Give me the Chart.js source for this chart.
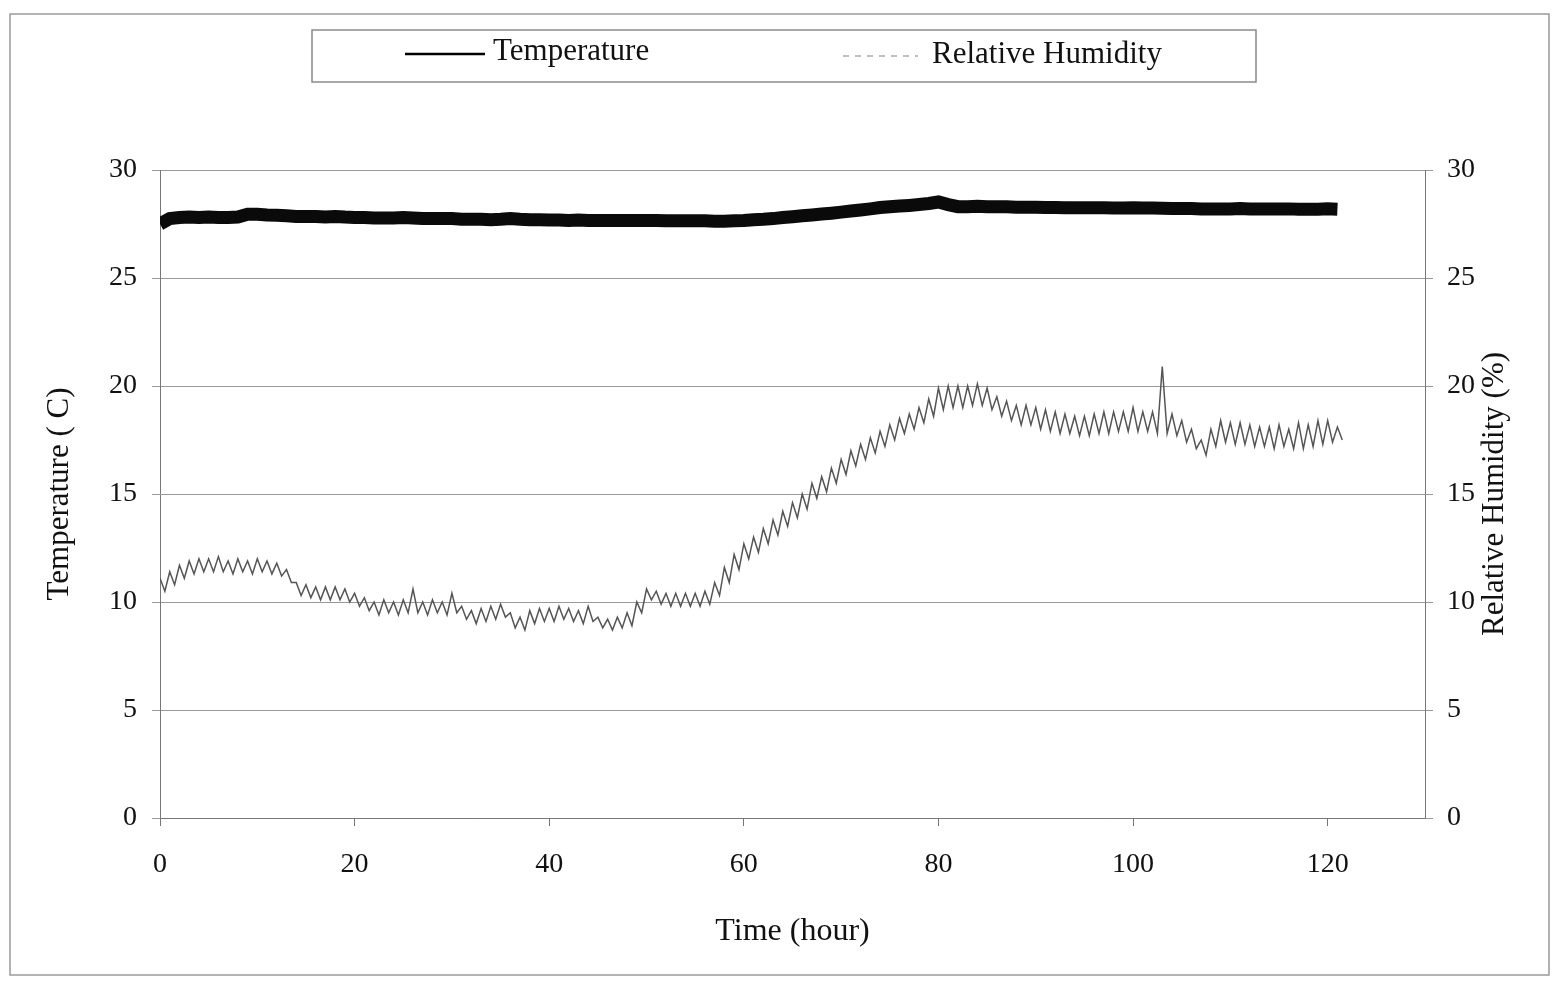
<!DOCTYPE html>
<html>
<head>
<meta charset="utf-8">
<title>Temperature and Relative Humidity</title>
<script src="https://cdn.jsdelivr.net/npm/chart.js@4.4.1/dist/chart.umd.min.js"></script>
<style>
  html, body { margin: 0; padding: 0; background: #ffffff; }
  #wrap { width: 1553px; height: 985px; position: relative; }
</style>
</head>
<body>
<div id="wrap"><canvas id="grafica"></canvas></div>
<script>
// series
const seriesNames = ['Temperature', 'Relative Humidity'];

// temperature (C), one reading per hour from hour 0
const tempStepHours = 1;
const temperature = [
  27.5, 27.75, 27.8, 27.82, 27.8, 27.82, 27.8, 27.8, 27.82, 27.95,
  27.95, 27.92, 27.9, 27.88, 27.85, 27.85, 27.85, 27.82, 27.85, 27.82,
  27.8, 27.8, 27.78, 27.78, 27.78, 27.8, 27.78, 27.75, 27.75, 27.75,
  27.75, 27.72, 27.72, 27.72, 27.7, 27.72, 27.75, 27.72, 27.7, 27.7,
  27.68, 27.68, 27.66, 27.68, 27.66, 27.66, 27.66, 27.66, 27.66, 27.66,
  27.66, 27.66, 27.65, 27.65, 27.65, 27.65, 27.65, 27.63, 27.63, 27.65,
  27.66, 27.7, 27.72, 27.75, 27.8, 27.84, 27.88, 27.92, 27.96, 28.0,
  28.05, 28.1, 28.15, 28.2, 28.26, 28.3, 28.33, 28.36, 28.4, 28.45,
  28.52, 28.4, 28.3, 28.3, 28.32, 28.3, 28.3, 28.3, 28.28, 28.28,
  28.28, 28.26, 28.26, 28.25, 28.25, 28.25, 28.25, 28.25, 28.24, 28.24,
  28.25, 28.24, 28.24, 28.23, 28.22, 28.22, 28.22, 28.2, 28.2, 28.2,
  28.2, 28.22, 28.2, 28.2, 28.2, 28.2, 28.2, 28.18, 28.18, 28.18,
  28.2, 28.18
];

// relative humidity (%), one reading per half hour from hour 0
const rhStepHours = 0.5;
const humidity = [
  11.1, 10.5, 11.4, 10.8, 11.7, 11.1, 11.9, 11.3, 12.0, 11.4,   // 0-4.5
  12.0, 11.4, 12.1, 11.4, 11.9, 11.3, 12.0, 11.4, 11.9, 11.3,   // 5-9.5
  12.0, 11.4, 11.9, 11.3, 11.8, 11.2, 11.5, 10.9, 10.9, 10.3,   // 10-14.5
  10.8, 10.2, 10.7, 10.1, 10.7, 10.1, 10.7, 10.1, 10.6, 10.0,   // 15-19.5
  10.4, 9.8, 10.2, 9.6, 10.0, 9.4, 10.1, 9.5, 10.0, 9.4,        // 20-24.5
  10.1, 9.5, 10.6, 9.5, 10.0, 9.4, 10.1, 9.5, 10.0, 9.4,        // 25-29.5
  10.4, 9.5, 9.8, 9.2, 9.6, 9.0, 9.7, 9.1, 9.8, 9.2,            // 30-34.5
  9.9, 9.3, 9.5, 8.8, 9.3, 8.7, 9.6, 9.0, 9.7, 9.1,             // 35-39.5
  9.7, 9.1, 9.8, 9.2, 9.7, 9.1, 9.6, 9.0, 9.8, 9.1,             // 40-44.5
  9.3, 8.8, 9.2, 8.7, 9.3, 8.8, 9.5, 8.9, 10.0, 9.5,            // 45-49.5
  10.6, 10.1, 10.5, 9.9, 10.4, 9.8, 10.4, 9.8, 10.4, 9.8,       // 50-54.5
  10.4, 9.8, 10.5, 9.9, 10.9, 10.3, 11.6, 10.9, 12.2, 11.5,     // 55-59.5
  12.7, 12.0, 13.0, 12.3, 13.4, 12.7, 13.8, 13.1, 14.2, 13.5,   // 60-64.5
  14.6, 13.9, 15.0, 14.3, 15.5, 14.8, 15.8, 15.1, 16.2, 15.5,   // 65-69.5
  16.6, 15.9, 17.0, 16.3, 17.3, 16.6, 17.6, 16.9, 17.9, 17.2,   // 70-74.5
  18.2, 17.5, 18.5, 17.8, 18.7, 18.0, 19.0, 18.3, 19.4, 18.6,   // 75-79.5
  19.9, 18.9, 20.0, 19.0, 20.0, 19.0, 20.0, 19.1, 20.1, 19.1,   // 80-84.5
  19.9, 18.9, 19.5, 18.6, 19.3, 18.4, 19.1, 18.2, 19.1, 18.2,   // 85-89.5
  19.0, 18.0, 18.9, 17.9, 18.8, 17.8, 18.7, 17.8, 18.6, 17.7,   // 90-94.5
  18.6, 17.7, 18.7, 17.8, 18.8, 17.8, 18.8, 17.9, 18.8, 17.9,   // 95-99.5
  19.0, 17.9, 18.8, 17.9, 18.8, 17.8, 20.9, 17.8, 18.7, 17.7,   // 100-104.5
  18.4, 17.4, 18.0, 17.1, 17.5, 16.8, 18.0, 17.2, 18.4, 17.4,   // 105-109.5
  18.3, 17.3, 18.3, 17.3, 18.2, 17.2, 18.1, 17.2, 18.1, 17.1,   // 110-114.5
  18.2, 17.2, 18.0, 17.1, 18.3, 17.1, 18.2, 17.2, 18.4, 17.3,   // 115-119.5
  18.4, 17.4, 18.1, 17.5                                        // 120-121.5
];

// axis settings
const xMin = 0, xMax = 130, xStep = 20;
const yMin = 0, yMax = 30, yStep = 5;

const serif = 'Liberation Serif';

const tempPoints = temperature.map((v, i) => ({ x: i * tempStepHours, y: v }));
const rhPoints = humidity.map((v, i) => ({ x: i * rhStepHours, y: v }));

// frame, legend box and right title (reads bottom to top, like the left one)
const extras = {
  id: 'extras',
  afterDraw(chart) {
    const ctx = chart.ctx;
    const area = chart.chartArea;
    ctx.save();

    // outer frame
    ctx.strokeStyle = '#9a9a9a';
    ctx.lineWidth = 1.5;
    ctx.strokeRect(10, 14, 1539, 961);

    // legend
    ctx.strokeStyle = '#8a8a8a';
    ctx.lineWidth = 1.5;
    ctx.strokeRect(312, 30, 944, 52);
    const ly = 54;
    ctx.setLineDash([]);
    ctx.strokeStyle = '#000';
    ctx.lineWidth = 2.5;
    ctx.beginPath(); ctx.moveTo(405, ly); ctx.lineTo(485, ly); ctx.stroke();
    ctx.setLineDash([6, 6]);
    ctx.strokeStyle = '#aaa';
    ctx.lineWidth = 1.5;
    ctx.beginPath(); ctx.moveTo(843, ly + 2); ctx.lineTo(918, ly + 2); ctx.stroke();
    ctx.setLineDash([]);
    ctx.fillStyle = '#111';
    ctx.font = '31px "' + serif + '"';
    ctx.textBaseline = 'middle';
    ctx.textAlign = 'left';
    ctx.fillText(seriesNames[0], 493, ly - 2);
    ctx.fillText(seriesNames[1], 932, ly + 1);

    // right axis title
    ctx.translate(area.right + 70, (area.top + area.bottom) / 2);
    ctx.rotate(-Math.PI / 2);
    ctx.textAlign = 'center';
    ctx.fillText('Relative Humidity (%)', 0, 0);
    ctx.restore();
  }
};

const ctx = document.getElementById('grafica').getContext('2d');

new Chart(ctx, {
  type: 'line',
  data: {
    datasets: [{
      label: seriesNames[0],
      data: tempPoints,
      yAxisID: 'y',
      borderColor: '#0a0a0a',
      borderWidth: 13,
      borderCapStyle: 'butt',
      pointRadius: 0,
      tension: 0
    }, {
      label: seriesNames[1],
      data: rhPoints,
      yAxisID: 'y1',
      borderColor: '#555555',
      borderWidth: 1.5,
      pointRadius: 0,
      tension: 0
    }]
  },
  options: {
    responsive: true,
    maintainAspectRatio: false,
    animation: false,
    layout: {
      padding: { left: 40, right: 40, top: 170, bottom: 30 }
    },
    scales: {
      x: {
        type: 'linear',
        min: xMin,
        max: xMax,
        afterFit: (scale) => { scale.height = 137; },
        ticks: {
          stepSize: xStep,
          includeBounds: false,
          autoSkip: false,
          maxRotation: 0,
          padding: 22,
          color: '#111',
          font: { family: serif, size: 28 }
        },
        grid: {
          drawOnChartArea: false,
          tickLength: 8,
          color: '#777'
        },
        border: { color: '#777', width: 1 },
        title: {
          display: true,
          text: 'Time (hour)',
          color: '#111',
          font: { family: serif, size: 32 },
          padding: { top: 0, bottom: 4 }
        }
      },
      y: {
        position: 'left',
        min: yMin,
        max: yMax,
        afterFit: (scale) => { scale.width = 120; },
        ticks: {
          stepSize: yStep,
          padding: 15,
          color: '#111',
          font: { family: serif, size: 28 }
        },
        grid: {
          color: '#9a9a9a',
          lineWidth: 1,
          tickLength: 8
        },
        border: { color: '#777', width: 1 },
        title: {
          display: true,
          text: 'Temperature ( C)',
          color: '#111',
          font: { family: serif, size: 31 },
          padding: { top: 1, bottom: 0 }
        }
      },
      y1: {
        position: 'right',
        min: yMin,
        max: yMax,
        afterFit: (scale) => { scale.width = 88; },
        ticks: {
          stepSize: yStep,
          padding: 14,
          color: '#111',
          font: { family: serif, size: 28 }
        },
        grid: {
          drawOnChartArea: false,
          tickLength: 8,
          color: '#9a9a9a'
        },
        border: { color: '#777', width: 1 }
      }
    },
    plugins: {
      legend: { display: false },
      tooltip: { enabled: false }
    }
  },
  plugins: [extras]
});
</script>
</body>
</html>
